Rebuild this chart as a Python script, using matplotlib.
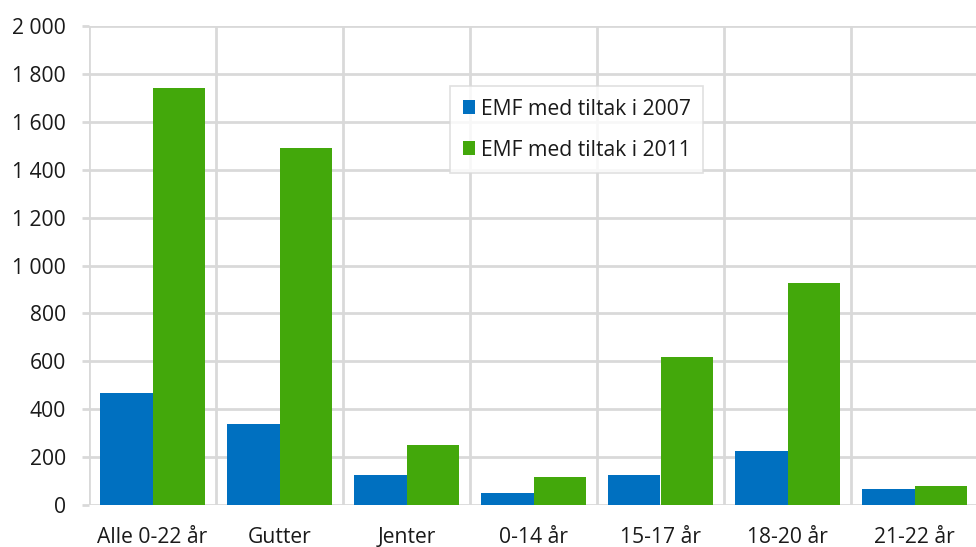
import matplotlib.pyplot as plt
import numpy as np

plt.rcParams['font.family'] = ['Open Sans', 'DejaVu Sans']

categories = ['Alle 0-22 år', 'Gutter', 'Jenter', '0-14 år', '15-17 år', '18-20 år', '21-22 år']
emf_2007 = [468, 340, 126, 51, 124, 224, 65]
emf_2011 = [1741, 1492, 250, 115, 617, 929, 78]
series_names = ['EMF med tiltak i 2007', 'EMF med tiltak i 2011']
yticks = np.arange(0, 2001, 200)
ytick_labels = [f"{v:,}".replace(',', ' ') for v in yticks]

blue = '#0070C0'
green = '#43A80B'
grid_col = '#D9D9D9'

fig = plt.figure(figsize=(9.76, 5.47), dpi=100)
ax = fig.add_axes([89 / 976, 1 - 505 / 547, 889 / 976, 479 / 547])

x = np.arange(len(categories))
w = 0.417
ax.bar(x - w / 2, emf_2007, width=w, color=blue, label=series_names[0], zorder=2)
ax.bar(x + w / 2, emf_2011, width=w, color=green, label=series_names[1], zorder=2)

ax.set_xlim(-0.5, len(categories) - 0.5)
ax.set_ylim(0, 2000)
ax.set_yticks(yticks)
ax.set_yticklabels(ytick_labels)
ax.set_xticks(x)
ax.set_xticklabels(categories)

# horizontal grid + category separators
ax.yaxis.grid(True, color=grid_col, linewidth=2, zorder=0)
for b in np.arange(-0.5, len(categories), 1):
    ax.axvline(b, color=grid_col, linewidth=2, zorder=0)
ax.set_axisbelow(True)

for s in ax.spines.values():
    s.set_visible(False)

ax.tick_params(axis='y', length=5, width=2, color=grid_col, pad=11.5,
               labelsize=15.2, labelcolor='#1a1a1a')
ax.tick_params(axis='x', length=0, pad=16, labelsize=15.2, labelcolor='#1a1a1a')

leg = ax.legend(loc='upper left', bbox_to_anchor=(0.406, 0.875), borderaxespad=0,
                fontsize=15.2, frameon=True, fancybox=False, handlelength=0.6,
                handleheight=0.6, handletextpad=0.25, labelspacing=0.95,
                borderpad=0.6)
leg.get_frame().set_edgecolor(grid_col)
leg.get_frame().set_linewidth(1.2)
for t in leg.get_texts():
    t.set_color('#1a1a1a')

fig.savefig('out.png', dpi=100)
